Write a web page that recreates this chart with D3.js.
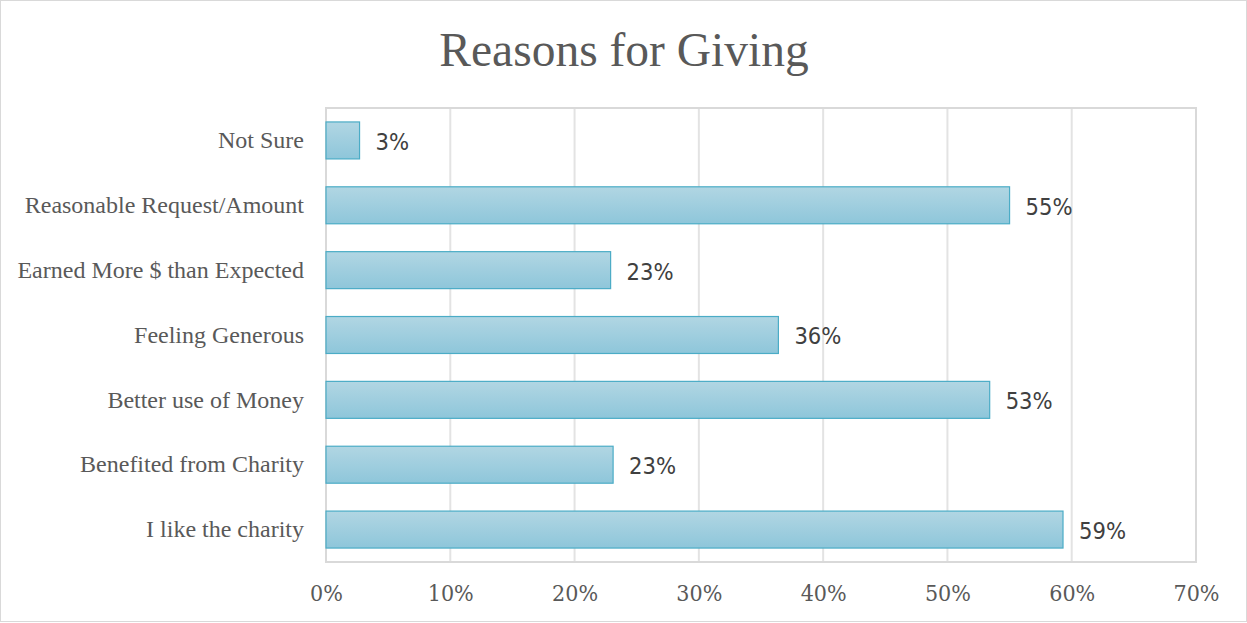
<!DOCTYPE html>
<html>
<head>
<meta charset="utf-8">
<script src="https://cdn.jsdelivr.net/npm/d3@7"></script>
<style>
  html, body { margin: 0; padding: 0; background: #fff; }
  svg { display: block; }
</style>
</head>
<body>
<svg id="chart" width="1247" height="623"></svg>
<script>
// Survey responses: share of respondents citing each reason
const categories = [
  "Not Sure",
  "Reasonable Request/Amount",
  "Earned More $ than Expected",
  "Feeling Generous",
  "Better use of Money",
  "Benefited from Charity",
  "I like the charity"
];
const shares = [0.027, 0.55, 0.229, 0.364, 0.534, 0.231, 0.593];
const tickValues = [0, 0.1, 0.2, 0.3, 0.4, 0.5, 0.6, 0.7];
const titleText = "Reasons for Giving";

const W = 1247, H = 623;
const margin = { top: 108, right: 51, bottom: 61, left: 326 };
const innerW = W - margin.left - margin.right;
const innerH = H - margin.top - margin.bottom;

const svg = d3.select("#chart");

// outer frame
svg.append("rect")
  .attr("x", 0.5).attr("y", 0.5)
  .attr("width", W - 1).attr("height", H - 2)
  .attr("fill", "#fff").attr("stroke", "#d9d9d9").attr("stroke-width", 1);

// bar gradient
const defs = svg.append("defs");
const grad = defs.append("linearGradient")
  .attr("id", "barFill").attr("x1", 0).attr("y1", 0).attr("x2", 0).attr("y2", 1);
grad.append("stop").attr("offset", "0%").attr("stop-color", "#b1d6e3");
grad.append("stop").attr("offset", "100%").attr("stop-color", "#8ec6da");

svg.append("text")
  .attr("x", 624).attr("y", 66)
  .attr("text-anchor", "middle")
  .attr("font-family", "'Liberation Serif', 'Times New Roman', serif")
  .attr("font-size", 47.5)
  .attr("fill", "#595959")
  .text(titleText);

const g = svg.append("g").attr("transform", `translate(${margin.left},${margin.top})`);

const x = d3.scaleLinear().domain([0, 0.7]).range([0, innerW]);
const y = d3.scaleBand().domain(categories).range([0, innerH]).paddingInner(0.43).paddingOuter(0.215);

// gridlines
g.append("g")
  .selectAll("line")
  .data(tickValues)
  .join("line")
  .attr("x1", d => x(d)).attr("x2", d => x(d))
  .attr("y1", 0).attr("y2", innerH)
  .attr("stroke", "#e3e3e3").attr("stroke-width", 2);

// plot frame
g.append("rect")
  .attr("x", 0).attr("y", 0).attr("width", innerW).attr("height", innerH)
  .attr("fill", "none").attr("stroke", "#d9d9d9").attr("stroke-width", 2);

// x axis labels
const xAxis = d3.axisBottom(x).tickValues(tickValues).tickFormat(d3.format(".0%")).tickSize(0).tickPadding(0);
const xg = g.append("g").attr("transform", `translate(0,${innerH + 31})`).call(xAxis);
xg.select(".domain").remove();
xg.selectAll("text")
  .style("font-family", "'DejaVu Serif Condensed', 'DejaVu Serif', serif")
  .style("font-size", "23px")
  .attr("fill", "#595959")
  .attr("dy", "0.35em");

// y axis labels
const yAxis = d3.axisLeft(y).tickSize(0).tickPadding(22);
const yg = g.append("g").call(yAxis);
yg.select(".domain").remove();
yg.selectAll("text")
  .style("font-family", "'Liberation Serif', 'Times New Roman', serif")
  .style("font-size", "24px")
  .attr("fill", "#595959");

// bars
g.append("g")
  .selectAll("rect")
  .data(categories)
  .join("rect")
  .attr("x", 0)
  .attr("y", d => y(d))
  .attr("width", (d, i) => x(shares[i]))
  .attr("height", y.bandwidth())
  .attr("fill", "url(#barFill)")
  .attr("stroke", "#4bacc6").attr("stroke-width", 1.2);

// value labels
g.append("g")
  .selectAll("text")
  .data(categories)
  .join("text")
  .attr("x", (d, i) => x(shares[i]) + 16)
  .attr("y", d => y(d) + y.bandwidth() / 2)
  .attr("dy", "0.4em")
  .style("font-family", "'DejaVu Sans Condensed', 'DejaVu Sans', sans-serif")
  .style("font-size", "23.5px")
  .attr("fill", "#404040")
  .text((d, i) => d3.format(".0%")(shares[i]));
</script>
</body>
</html>
